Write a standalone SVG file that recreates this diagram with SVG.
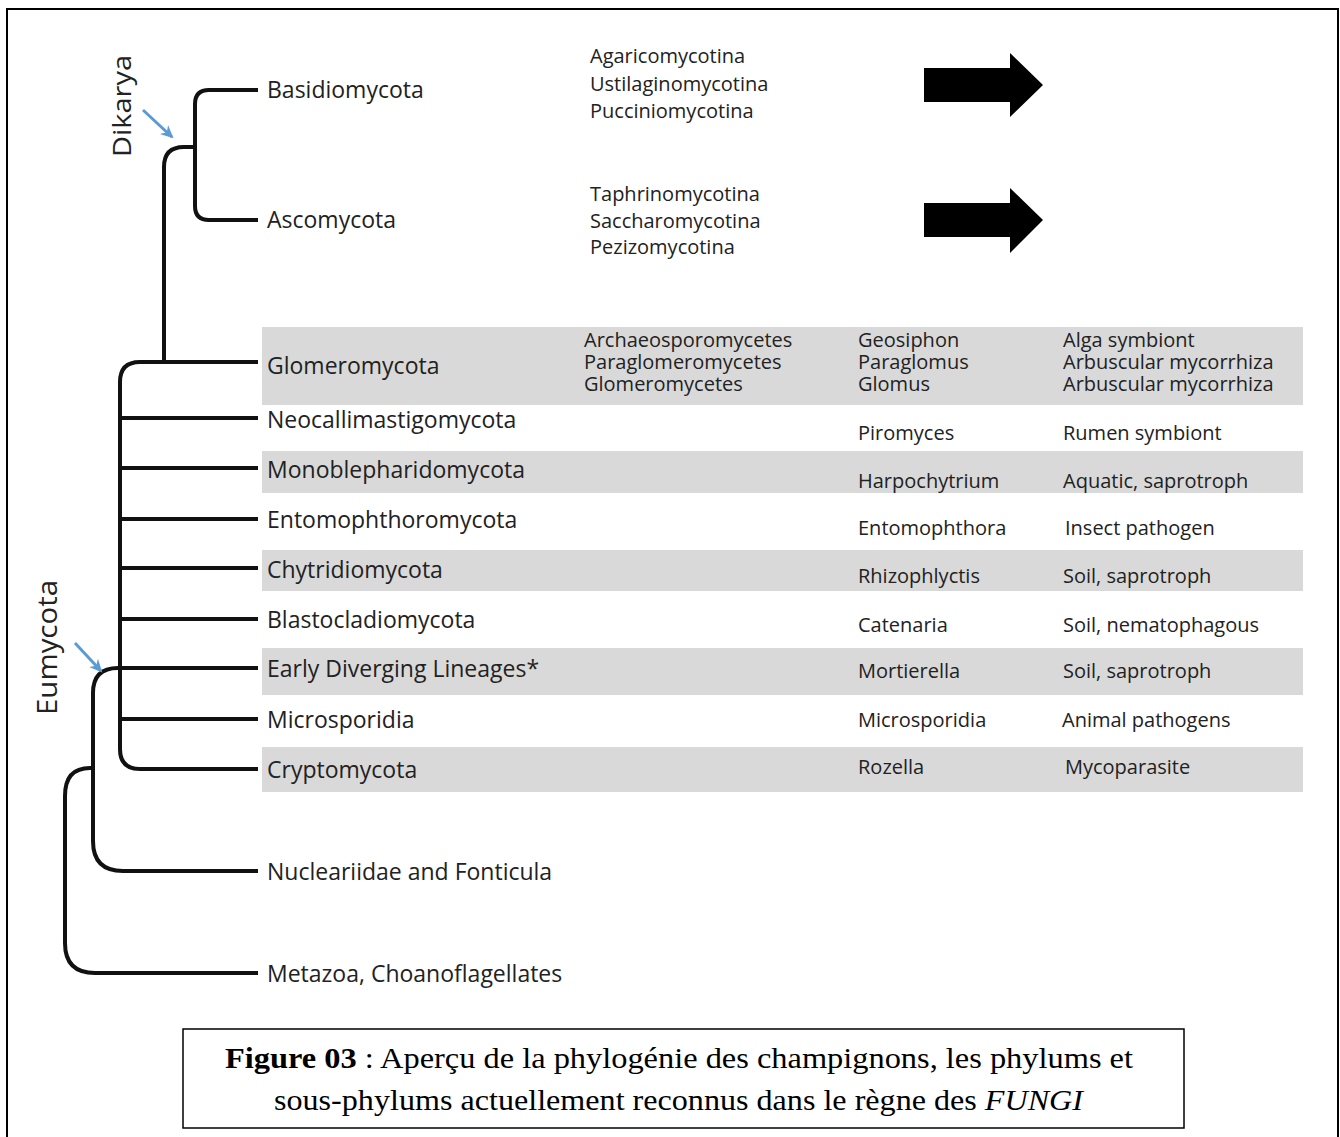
<svg xmlns="http://www.w3.org/2000/svg" width="1340" height="1137" viewBox="0 0 1340 1137">
<defs>
<style>
.t{font-family:"Open Sans","Noto Sans",sans-serif;fill:#222;}
.ph{font-size:23px;}
.sm{font-size:20px;}
.band{fill:#d9d9d9;}
.br{fill:none;stroke:#111;stroke-width:4;stroke-linecap:butt;stroke-linejoin:round;}
.blue{fill:none;stroke:#5b9bd5;stroke-width:3;}
.cap{font-family:"Liberation Serif","Times New Roman",serif;font-size:29px;fill:#000;}
.big{fill:#000;}
</style>
<marker id="bh" markerUnits="userSpaceOnUse" markerWidth="14" markerHeight="14" refX="11" refY="7" orient="auto">
<path d="M0,1 L13,7 L0,13 L4,7 z" fill="#5b9bd5"/>
</marker>
</defs>
<rect x="0" y="0" width="1340" height="1137" fill="#fff"/>
<rect x="7" y="9" width="1331" height="1140" fill="none" stroke="#000" stroke-width="2"/>

<g id="bands">
<rect class="band" x="262" y="327" width="1041" height="78"/>
<rect class="band" x="262" y="451" width="1041" height="42"/>
<rect class="band" x="262" y="550" width="1041" height="41"/>
<rect class="band" x="262" y="648" width="1041" height="47"/>
<rect class="band" x="262" y="747" width="1041" height="45"/>
</g>

<g id="connectors">
<path class="br" d="M258,90 H209 Q195,90 195,104 V206 Q195,220 209,220 H258"/>
<path class="br" d="M195,147 H184 Q164,147 164,167 V362"/>
<path class="br" d="M258,362 H140 Q120,362 120,382 V749 Q120,769 140,769 H258"/>
<path class="br" d="M120,418 H258 M120,468 H258 M120,519 H258 M120,568 H258 M120,619 H258 M120,719 H258 M120,668 H258"/>
<path class="br" d="M121,668 H118 Q93,668 93,693 V841 Q93,871 123,871 H258"/>
<path class="br" d="M93,768 H90 Q65,768 65,796 V943 Q65,973 95,973 H258"/>
<line class="blue" x1="143" y1="110" x2="172" y2="137" marker-end="url(#bh)"/>
<line class="blue" x1="75" y1="643" x2="101" y2="671" marker-end="url(#bh)"/>
<polygon class="big" points="924,68 1010,68 1010,53 1043,85 1010,117 1010,102 924,102"/>
<polygon class="big" points="924,203 1010,203 1010,188 1043,220 1010,253 1010,237 924,237"/>
</g>

<g id="clade-labels">
<text class="t" font-size="26" textLength="102" lengthAdjust="spacingAndGlyphs" x="131" y="157" transform="rotate(-90 131 157)">Dikarya</text>
<text class="t" font-size="27" textLength="135" lengthAdjust="spacingAndGlyphs" x="57" y="715" transform="rotate(-90 57 715)">Eumycota</text>
</g>

<g id="node-basidiomycota">
<text class="t ph" x="267" y="98">Basidiomycota</text>
<text class="t sm" x="590" y="63">Agaricomycotina</text>
<text class="t sm" x="590" y="91">Ustilaginomycotina</text>
<text class="t sm" x="590" y="118">Pucciniomycotina</text>
</g>
<g id="node-ascomycota">
<text class="t ph" x="267" y="228">Ascomycota</text>
<text class="t sm" x="590" y="201">Taphrinomycotina</text>
<text class="t sm" x="590" y="228">Saccharomycotina</text>
<text class="t sm" x="590" y="254">Pezizomycotina</text>
</g>
<g id="node-glomeromycota">
<text class="t ph" x="267" y="374">Glomeromycota</text>
<text class="t sm" x="584" y="347">Archaeosporomycetes</text>
<text class="t sm" x="584" y="369">Paraglomeromycetes</text>
<text class="t sm" x="584" y="391">Glomeromycetes</text>
<text class="t sm" x="858" y="347">Geosiphon</text>
<text class="t sm" x="858" y="369">Paraglomus</text>
<text class="t sm" x="858" y="391">Glomus</text>
<text class="t sm" x="1063" y="347">Alga symbiont</text>
<text class="t sm" x="1063" y="369">Arbuscular mycorrhiza</text>
<text class="t sm" x="1063" y="391">Arbuscular mycorrhiza</text>
</g>
<g id="node-neocallimastigomycota">
<text class="t ph" x="267" y="428">Neocallimastigomycota</text>
<text class="t sm" x="858" y="440">Piromyces</text>
<text class="t sm" x="1063" y="440">Rumen symbiont</text>
</g>
<g id="node-monoblepharidomycota">
<text class="t ph" x="267" y="478">Monoblepharidomycota</text>
<text class="t sm" x="858" y="488">Harpochytrium</text>
<text class="t sm" x="1063" y="488">Aquatic, saprotroph</text>
</g>
<g id="node-entomophthoromycota">
<text class="t ph" x="267" y="528">Entomophthoromycota</text>
<text class="t sm" x="858" y="535">Entomophthora</text>
<text class="t sm" x="1065" y="535">Insect pathogen</text>
</g>
<g id="node-chytridiomycota">
<text class="t ph" x="267" y="578">Chytridiomycota</text>
<text class="t sm" x="858" y="583">Rhizophlyctis</text>
<text class="t sm" x="1063" y="583">Soil, saprotroph</text>
</g>
<g id="node-blastocladiomycota">
<text class="t ph" x="267" y="628">Blastocladiomycota</text>
<text class="t sm" x="858" y="632">Catenaria</text>
<text class="t sm" x="1063" y="632">Soil, nematophagous</text>
</g>
<g id="node-early-diverging">
<text class="t ph" x="267" y="677">Early Diverging Lineages*</text>
<text class="t sm" x="858" y="678">Mortierella</text>
<text class="t sm" x="1063" y="678">Soil, saprotroph</text>
</g>
<g id="node-microsporidia">
<text class="t ph" x="267" y="728">Microsporidia</text>
<text class="t sm" x="858" y="727">Microsporidia</text>
<text class="t sm" x="1062" y="727">Animal pathogens</text>
</g>
<g id="node-cryptomycota">
<text class="t ph" x="267" y="778">Cryptomycota</text>
<text class="t sm" x="858" y="774">Rozella</text>
<text class="t sm" x="1065" y="774">Mycoparasite</text>
</g>
<g id="node-nucleariidae">
<text class="t ph" x="267" y="880">Nucleariidae and Fonticula</text>
</g>
<g id="node-metazoa">
<text class="t ph" x="267" y="982">Metazoa, Choanoflagellates</text>
</g>

<g id="caption">
<rect x="183" y="1029" width="1001" height="99" fill="none" stroke="#000" stroke-width="1.5"/>
<text class="cap" x="225" y="1068" textLength="908" lengthAdjust="spacingAndGlyphs"><tspan font-weight="bold">Figure 03</tspan> : Aperçu de la phylogénie des champignons, les phylums et</text>
<text class="cap" x="274" y="1110" textLength="809" lengthAdjust="spacingAndGlyphs">sous-phylums actuellement reconnus dans le règne des <tspan font-style="italic">FUNGI</tspan></text>
</g>
</svg>
